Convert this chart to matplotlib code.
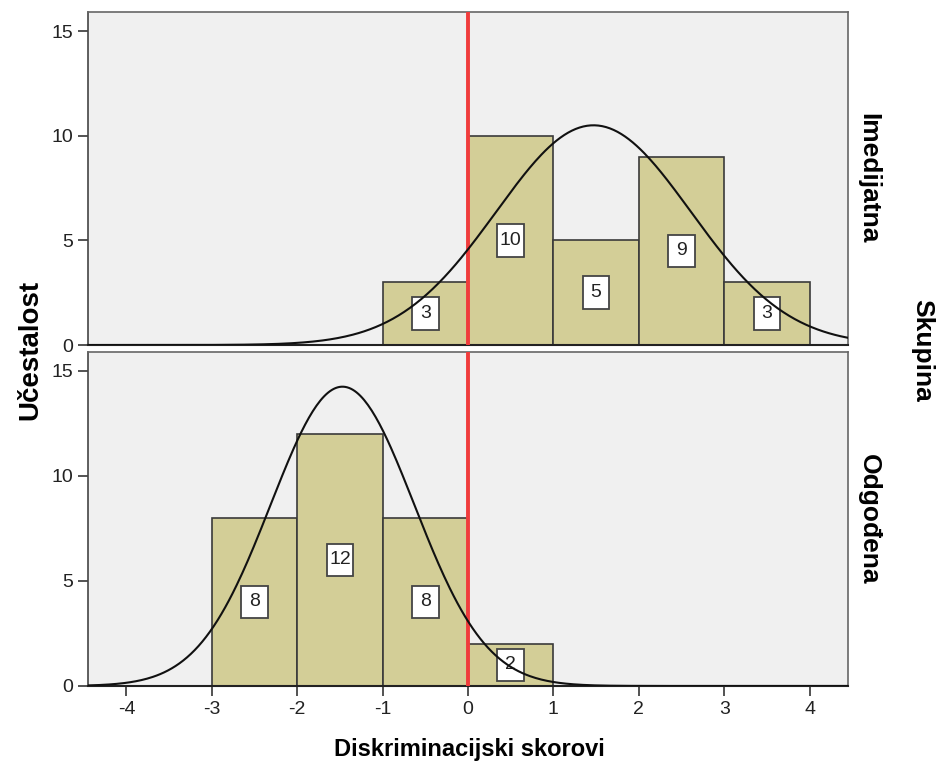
import numpy as np
import matplotlib
matplotlib.use("Agg")
import matplotlib.pyplot as plt
from matplotlib.patches import Rectangle

plt.rcParams['font.family'] = ['Liberation Sans', 'DejaVu Sans']

bin_edges = [-3, -2, -1, 0, 1, 2, 3, 4]
groups = ["Imedijatna", "Odgođena"]
counts_imedijatna = [0, 0, 3, 10, 5, 9, 3]
counts_odgodena = [8, 12, 8, 2, 0, 0, 0]
curve_mean = [1.47, -1.47]
curve_sd = [1.14, 0.84]
n_total = [30, 30]
x_ticks = [-4, -3, -2, -1, 0, 1, 2, 3, 4]
y_ticks = [0, 5, 10, 15]

bar_color = '#d3ce97'
bg = '#f0f0f0'
edge = '#3a3a3a'

fig = plt.figure(figsize=(9.36, 7.65), dpi=100)
ax_top = fig.add_axes([0.094, 0.549, 0.812, 0.435])
ax_bot = fig.add_axes([0.094, 0.1033, 0.812, 0.4366])

box_w = 0.31   # label box width in x units
box_h = 1.55   # label box height in y units

xs = np.linspace(-4.45, 4.45, 400)
for ax, counts, mu, sd, n in zip([ax_top, ax_bot],
                                 [counts_imedijatna, counts_odgodena],
                                 curve_mean, curve_sd, n_total):
    ax.set_facecolor(bg)
    lefts = np.array(bin_edges[:-1])
    widths = np.diff(bin_edges)
    c = np.array(counts)
    mask = c > 0
    ax.bar(lefts[mask], c[mask], width=widths[mask], align='edge',
           color=bar_color, edgecolor=edge, linewidth=1.2, zorder=2)
    ax.axvline(0, color='#f03c3c', linewidth=2.8, zorder=3)
    for l, w, v in zip(lefts[mask], widths[mask], c[mask]):
        cx, cy = l + w / 2, v / 2
        ax.add_patch(Rectangle((cx - box_w / 2, cy - box_h / 2), box_w, box_h,
                               facecolor='white', edgecolor='#444444',
                               linewidth=1.3, zorder=4))
        ax.text(cx, cy, str(v), ha='center', va='center', fontsize=14,
                color='#222222', zorder=4.5)
    ys = n * np.exp(-0.5 * ((xs - mu) / sd) ** 2) / (sd * np.sqrt(2 * np.pi))
    ax.plot(xs, ys, color='#111111', linewidth=1.5, zorder=5)
    ax.set_xlim(-4.45, 4.45)
    ax.set_ylim(0, 15.9)
    ax.set_yticks(y_ticks)
    ax.tick_params(axis='y', direction='out', length=7, width=1.3,
                   color='#444444', labelsize=14, labelcolor='#222222')
    for s in ax.spines.values():
        s.set_color('#666666')
        s.set_linewidth(1.2)
    ax.spines['left'].set_color('#444444')
    ax.spines['bottom'].set_color('#222222')
    ax.spines['bottom'].set_linewidth(1.5)

ax_top.set_xticks([])
ax_bot.set_xticks(x_ticks)
ax_bot.set_xticklabels([str(t) for t in x_ticks])
ax_bot.tick_params(axis='x', direction='out', length=7, width=1.3,
                   color='#444444', labelsize=14, labelcolor='#222222')

ax_top.text(1.027, 0.5, groups[0], transform=ax_top.transAxes, rotation=-90,
            ha='center', va='center', fontsize=19, fontweight='bold')
ax_bot.text(1.027, 0.5, groups[1], transform=ax_bot.transAxes, rotation=-90,
            ha='center', va='center', fontsize=19, fontweight='bold')
fig.text(0.985, 0.542, 'Skupina', rotation=-90, ha='center', va='center',
         fontsize=19, fontweight='bold')
fig.text(0.032, 0.542, 'Učestalost', rotation=90, ha='center', va='center',
         fontsize=20, fontweight='bold')
fig.text(0.501, 0.02, 'Diskriminacijski skorovi', ha='center', va='center',
         fontsize=17, fontweight='bold')

fig.savefig('out.png', dpi=100)
